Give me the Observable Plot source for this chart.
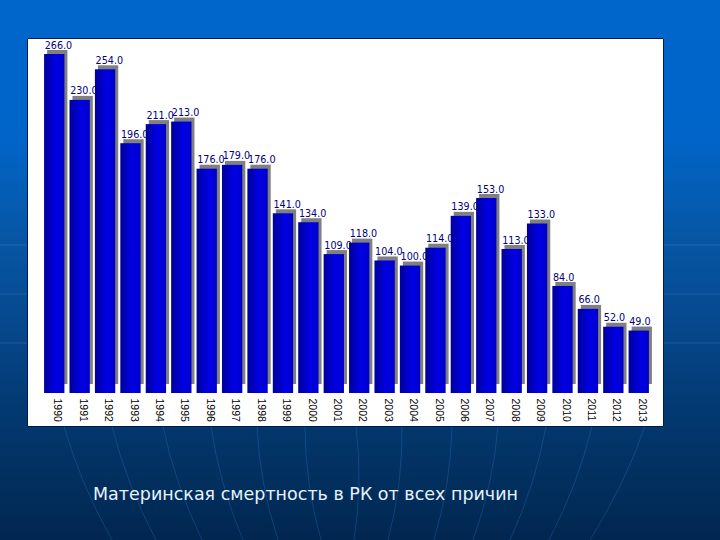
<!DOCTYPE html>
<html><head><meta charset="utf-8">
<script src="https://cdn.jsdelivr.net/npm/d3@7"></script>
<script src="https://cdn.jsdelivr.net/npm/@observablehq/plot@0.6"></script>
<style>
html,body{margin:0;padding:0;width:720px;height:540px;overflow:hidden}
#page{position:relative;width:720px;height:540px;overflow:hidden;
background:linear-gradient(180deg,#0066cc 0%,#0065c9 25%,#0658a8 42%,#064a90 58%,#033a73 75%,#02305f 88%,#012650 100%)}
#deco{position:absolute;left:0;top:0}
#panel{position:absolute;left:28px;top:39px;width:635px;height:387px;background:#fff;
box-shadow:-1px 0 0 #001a50,0 -1px 0 #001a50,0 1px 0 #001a50,1px 0 0 #001a50}
#panel svg{display:block}
#caption{position:absolute;left:93px;top:484px;font:17.5px "DejaVu Sans",sans-serif;color:#e6f3ff;white-space:nowrap}
</style></head><body>
<div id="page">
<svg id="deco" width="720" height="540"></svg>
<div id="panel"></div>
<div id="caption">Материнская смертность в РК от всех причин</div>
</div>
<script>
const years = ["1990","1991","1992","1993","1994","1995","1996","1997","1998","1999","2000","2001","2002","2003","2004","2005","2006","2007","2008","2009","2010","2011","2012","2013"];
const values = [266,230,254,196,211,213,176,179,176,141,134,109,118,104,100,114,139,153,113,133,84,66,52,49];
const valueLabels = ["266.0","230.0","254.0","196.0","211.0","213.0","176.0","179.0","176.0","141.0","134.0","109.0","118.0","104.0","100.0","114.0","139.0","153.0","113.0","133.0","84.0","66.0","52.0","49.0"];
const rows = years.map((year,i)=>({year,value:values[i],label:valueLabels[i]}));

const gradient = () => {
  const defs = d3.create("svg:defs");
  const g = defs.append("linearGradient").attr("id","barFill").attr("x1",0).attr("x2",1).attr("y1",0).attr("y2",0);
  [[0,"#00009a"],[0.6,"#0000e6"],[1,"#0000c8"]].forEach(([o,c])=>g.append("stop").attr("offset",o).attr("stop-color",c));
  return defs.node();
};

const chart = Plot.plot({
  width:635,height:387,marginLeft:11,marginRight:9,marginTop:15,marginBottom:33,
  style:{background:"#fff",overflow:"visible"},
  x:{domain:years,padding:0.2,round:false,label:null},
  y:{domain:[0,266],axis:null},
  marks:[
    gradient,
    Plot.barY(rows,{x:"year",y:"value",fill:"#808080",dx:3,insetTop:-4,insetBottom:9}),
    Plot.barY(rows,{x:"year",y:"value",fill:"url(#barFill)"}),
    Plot.text(rows,{x:"year",y:"value",text:"label",textAnchor:"start",dx:-10,dy:-9,fill:"#000080",fontFamily:"DejaVu Sans",fontSize:9.6}),
    Plot.axisX({tickSize:0,tickRotate:90,tickPadding:5,fontFamily:"Liberation Sans",fontSize:10.5,fill:"#000",label:null,dx:3})
  ]
});
document.getElementById("panel").append(chart);

// faint slide decoration behind the chart
const deco = d3.select("#deco");
const tops = [64,112,163,211,257,305,356,402,452,498,546,592,645];
const bottoms = [112,156,202,243,278,321,354,388,434,473,510,549,590];
tops.forEach((t,i)=>{
  const b = bottoms[i], mx = (t+b)/2 + (t<354?-8:8);
  deco.append("path").attr("d",`M${t},426Q${mx},483 ${b},540`).attr("fill","none").attr("stroke","#2f7fd0").attr("stroke-opacity",0.3);
});
[245,294,343].forEach(y=>deco.append("line").attr("x1",0).attr("x2",720).attr("y1",y).attr("y2",y).attr("stroke","#4f95dc").attr("stroke-opacity",0.3));
</script>
</body></html>
